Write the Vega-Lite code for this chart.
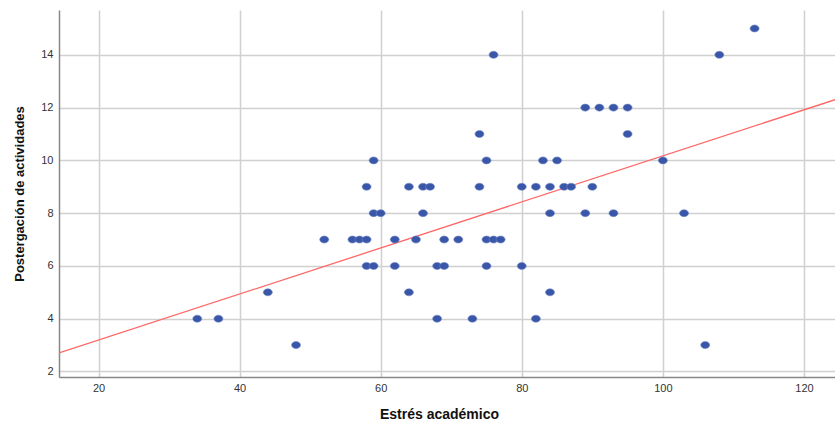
{
  "$schema": "https://vega.github.io/schema/vega-lite/v6.json",
  "width": 776,
  "height": 367,
  "autosize": "none",
  "padding": {"left": 59, "top": 10, "right": 0, "bottom": 45},
  "background": "white",
  "config": {
    "view": {"stroke": null},
    "axis": {
      "labelFont": "Liberation Sans",
      "titleFont": "Liberation Sans",
      "labelFontSize": 11,
      "labelColor": "#333333",
      "titleColor": "#111111",
      "gridColor": "#d0d0d0",
      "gridWidth": 1.5,
      "domainColor": "#888888",
      "domainWidth": 1.5,
      "ticks": false
    }
  },
  "datasets": {
    "pts": [
      {"x": 34, "y": 4}, {"x": 37, "y": 4}, {"x": 44, "y": 5}, {"x": 48, "y": 3},
      {"x": 52, "y": 7}, {"x": 56, "y": 7}, {"x": 57, "y": 7}, {"x": 58, "y": 7},
      {"x": 58, "y": 9}, {"x": 58, "y": 6}, {"x": 59, "y": 6}, {"x": 59, "y": 10},
      {"x": 59, "y": 8}, {"x": 60, "y": 8}, {"x": 62, "y": 7}, {"x": 62, "y": 6},
      {"x": 64, "y": 9}, {"x": 64, "y": 5}, {"x": 65, "y": 7}, {"x": 66, "y": 9},
      {"x": 67, "y": 9}, {"x": 66, "y": 8}, {"x": 68, "y": 6}, {"x": 69, "y": 6},
      {"x": 68, "y": 4}, {"x": 69, "y": 7}, {"x": 71, "y": 7}, {"x": 73, "y": 4},
      {"x": 74, "y": 11}, {"x": 74, "y": 9}, {"x": 75, "y": 10}, {"x": 75, "y": 7},
      {"x": 76, "y": 7}, {"x": 77, "y": 7}, {"x": 75, "y": 6}, {"x": 76, "y": 14},
      {"x": 80, "y": 9}, {"x": 80, "y": 6}, {"x": 82, "y": 9}, {"x": 82, "y": 4},
      {"x": 83, "y": 10}, {"x": 84, "y": 9}, {"x": 84, "y": 8}, {"x": 84, "y": 5},
      {"x": 85, "y": 10}, {"x": 86, "y": 9}, {"x": 87, "y": 9}, {"x": 90, "y": 9},
      {"x": 89, "y": 12}, {"x": 91, "y": 12}, {"x": 93, "y": 12}, {"x": 95, "y": 12},
      {"x": 95, "y": 11}, {"x": 100, "y": 10}, {"x": 89, "y": 8}, {"x": 93, "y": 8},
      {"x": 103, "y": 8}, {"x": 106, "y": 3}, {"x": 108, "y": 14}, {"x": 113, "y": 15}
    ],
    "fit": [
      {"x": 14.4, "y": 2.70},
      {"x": 124.4, "y": 12.30}
    ]
  },
  "layer": [
    {
      "data": {"name": "fit"},
      "mark": {"type": "line", "color": "#ff6666", "strokeWidth": 1.3, "clip": true},
      "encoding": {
        "x": {"field": "x", "type": "quantitative",
              "scale": {"domain": [14.4, 124.4], "nice": false, "zero": false},
              "axis": {"values": [20, 40, 60, 80, 100, 120], "title": "Estrés académico",
                       "titleFontSize": 14, "titleFontWeight": "bold", "titlePadding": 14,
                       "titleX": 380, "labelPadding": 5}},
        "y": {"field": "y", "type": "quantitative",
              "scale": {"domain": [1.79, 15.7], "nice": false, "zero": false},
              "axis": {"values": [2, 4, 6, 8, 10, 12, 14], "title": "Postergación de actividades",
                       "titleFontSize": 13, "titleFontWeight": "bold", "titlePadding": 14,
                       "labelPadding": 6}}
      }
    },
    {
      "data": {"name": "pts"},
      "mark": {"type": "point", "filled": true, "color": "#3a56a8", "opacity": 1,
               "shape": "M-1,0A1,0.78,0,1,0,1,0A1,0.78,0,1,0,-1,0Z", "size": 81,
               "stroke": "#6f86c4", "strokeWidth": 0.6},
      "encoding": {
        "x": {"field": "x", "type": "quantitative"},
        "y": {"field": "y", "type": "quantitative"}
      }
    }
  ]
}
